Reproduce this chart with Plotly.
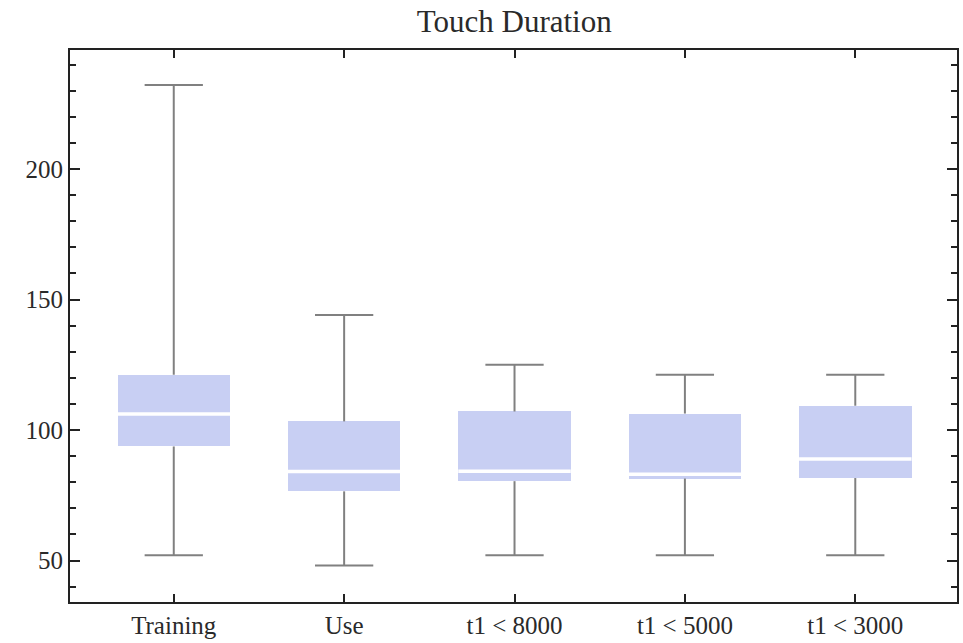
import plotly.graph_objects as go

categories = ["Training", "Use", "t1 < 8000", "t1 < 5000", "t1 < 3000"]
whisker_low = [52.0, 48.1, 52.0, 52.0, 52.0]
q1 = [93.7, 76.5, 80.4, 81.4, 81.6]
median = [106.1, 84.1, 84.2, 83.0, 88.9]
q3 = [121.2, 103.3, 107.1, 106.3, 109.3]
whisker_high = [232.2, 144.1, 125.0, 121.2, 121.2]

BOX_W = 0.66
CAP_HALF = 0.171
pos = list(range(len(categories)))

fig = go.Figure()

# boxes
fig.add_trace(go.Bar(
    x=pos, y=[b - a for a, b in zip(q1, q3)], base=q1, width=BOX_W,
    marker=dict(color="#c8cff3", line=dict(width=0)),
    hoverinfo="skip", showlegend=False,
))

# whiskers with caps
wx, wy = [], []
for i, lo, a, b, hi in zip(pos, whisker_low, q1, q3, whisker_high):
    wx += [i, i, None, i - CAP_HALF, i + CAP_HALF, None,
           i, i, None, i - CAP_HALF, i + CAP_HALF, None]
    wy += [b, hi, None, hi, hi, None, a, lo, None, lo, lo, None]
fig.add_trace(go.Scatter(
    x=wx, y=wy, mode="lines", line=dict(color="#808080", width=2),
    hoverinfo="skip", showlegend=False,
))

# medians
mx, my = [], []
for i, m in zip(pos, median):
    mx += [i - BOX_W / 2, i + BOX_W / 2, None]
    my += [m, m, None]
fig.add_trace(go.Scatter(
    x=mx, y=my, mode="lines", line=dict(color="white", width=3.5),
    hoverinfo="skip", showlegend=False,
))

font_fam = "Liberation Serif, Times New Roman, serif"
fig.update_layout(
    width=963, height=643,
    margin=dict(l=70, r=4, t=50, b=41),
    paper_bgcolor="white", plot_bgcolor="white",
    title=dict(text="Touch Duration", x=0.534, xanchor="center",
               y=1 - 21 / 643, yanchor="middle", yref="container",
               font=dict(family=font_fam, size=31, color="#2a2a2a")),
    font=dict(family=font_fam, size=25, color="#2a2a2a"),
    bargap=0,
)
fig.update_xaxes(
    range=[-0.609, 4.597], tickmode="array", tickvals=pos, ticktext=categories,
    ticks="inside", ticklen=8, tickwidth=2, tickcolor="#222",
    showline=True, linecolor="#222", linewidth=2, mirror="ticks",
    showgrid=False, zeroline=False,
    tickfont=dict(family=font_fam, size=25, color="#2a2a2a"),
)
fig.update_yaxes(
    range=[34.1, 245.6], tickmode="array", tickvals=[50, 100, 150, 200],
    ticks="inside", ticklen=10, tickwidth=2, tickcolor="#222",
    minor=dict(dtick=10, tick0=0, ticks="inside", ticklen=6, tickwidth=2, tickcolor="#222", showgrid=False),
    showline=True, linecolor="#222", linewidth=2, mirror="ticks",
    showgrid=False, zeroline=False,
    tickfont=dict(family=font_fam, size=25, color="#2a2a2a"),
)

fig.write_html("out.html")
